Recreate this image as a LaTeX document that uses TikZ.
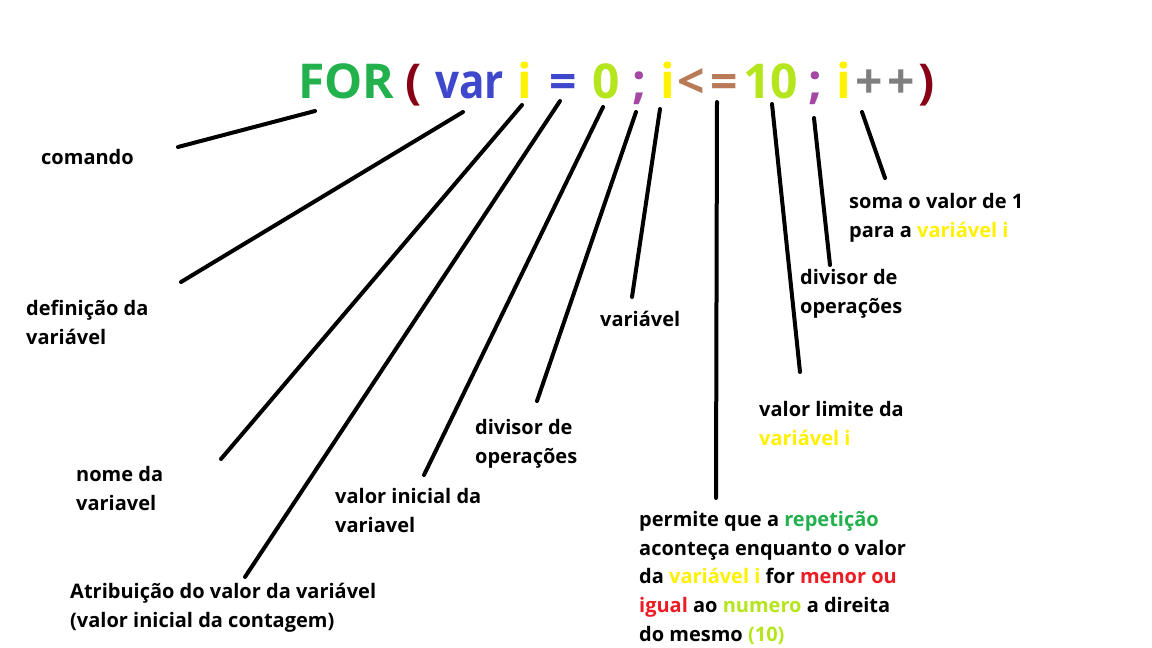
\documentclass[tikz,border=0pt]{standalone}
\usepackage{fontspec}
\setmainfont{Open Sans}
\definecolor{pgreen}{HTML}{22B14C}
\definecolor{pdred}{HTML}{880015}
\definecolor{pblue}{HTML}{3F48CC}
\definecolor{pyellow}{HTML}{FFF200}
\definecolor{plime}{HTML}{B5E61D}
\definecolor{ppurple}{HTML}{A349A4}
\definecolor{pbrown}{HTML}{B97A57}
\definecolor{pgray}{HTML}{7F7F7F}
\definecolor{pred}{HTML}{ED1C24}
\begin{document}
\begin{tikzpicture}[x=1pt,y=-1pt,
  tok/.style={anchor=base west,inner sep=0pt,font=\fontsize{48}{58}\selectfont\bfseries},
  lbl/.style={anchor=base west,inner sep=0pt,align=left,font=\fontsize{20}{29}\selectfont\bfseries},
  conn/.style={line width=4pt,line cap=round}]
\useasboundingbox[fill=white] (0,0) rectangle (1152,648);
% formula tokens
\node[tok,text=pgreen]  (tFOR) at (298,98) {FOR};
\node[tok,text=pdred]   (tLP)  at (405,98) {(};
\node[tok,text=pblue,xscale=0.88,transform shape] (tVAR) at (435,98) {var};
\node[tok,text=pyellow] (tI1)  at (517,98) {i};
\node[tok,text=pblue]   (tEQ)  at (549,98) {=};
\node[tok,text=plime]   (tZ)   at (592,98) {0};
\node[tok,text=ppurple] (tS1)  at (632,98) {;};
\node[tok,text=pyellow] (tI2)  at (660,98) {i};
\node[tok,text=pbrown]  (tLT)  at (677,98) {<};
\node[tok,text=pbrown]  (tEQ2) at (710,98) {=};
\node[tok,text=plime]   (tTEN) at (743,98) {10};
\node[tok,text=ppurple] (tS2)  at (808,98) {;};
\node[tok,text=pyellow] (tI3)  at (836,98) {i};
\node[tok,text=pgray]   (tP1)  at (855,98) {+};
\node[tok,text=pgray]   (tP2)  at (887,98) {+};
\node[tok,text=pdred]   (tRP)  at (918,98) {)};
% labels (anchor = baseline of the last line)
\node[lbl] (lCmd)  at (41,164)  {comando};
\node[lbl] (lDef)  at (26,344)  {definição da\\variável};
\node[lbl] (lNome) at (76,510)  {nome da\\variavel};
\node[lbl] (lAtr)  at (70,627)  {Atribuição do valor da variável\\(valor inicial da contagem)};
\node[lbl] (lIni)  at (335,532) {valor inicial da\\variavel};
\node[lbl] (lDiv1) at (475,463) {divisor de\\operações};
\node[lbl] (lVar)  at (600,326) {variável};
\node[lbl,font=\fontsize{20}{28.6}\selectfont\bfseries] (lPerm) at (639,641) {permite que a \textcolor{pgreen}{repetição}\\aconteça enquanto o valor\\da \textcolor{pyellow}{variável i} for \textcolor{pred}{menor ou}\\\textcolor{pred}{igual} ao \textcolor{plime}{numero} a direita\\do mesmo \textcolor{plime}{(10)}};
\node[lbl] (lLim)  at (759,445) {valor limite da\\\textcolor{pyellow}{variável i}};
\node[lbl] (lDiv2) at (800,313) {divisor de\\operações};
\node[lbl] (lSoma) at (849,237) {soma o valor de 1\\para a \textcolor{pyellow}{variável i}};
% connector end points
\coordinate (cCmdA) at (178,147);  \coordinate (cCmdB) at (315,111);
\coordinate (cDefA) at (181,282);  \coordinate (cDefB) at (463,112);
\coordinate (cNomA) at (221,459);  \coordinate (cNomB) at (522,105);
\coordinate (cAtrA) at (245,577);  \coordinate (cAtrB) at (560,101);
\coordinate (cIniA) at (424,475);  \coordinate (cIniB) at (603,107);
\coordinate (cDv1A) at (537,401);  \coordinate (cDv1B) at (636,112);
\coordinate (cVarA) at (632,297);  \coordinate (cVarB) at (660,109);
\coordinate (cPrmA) at (716,498);  \coordinate (cPrmB) at (717,102);
\coordinate (cLimA) at (800,372);  \coordinate (cLimB) at (772,104);
\coordinate (cDv2A) at (830,265);  \coordinate (cDv2B) at (814,118);
\coordinate (cSomA) at (885,178);  \coordinate (cSomB) at (862,112);
\draw[conn] (cCmdA) -- (cCmdB);
\draw[conn] (cDefA) -- (cDefB);
\draw[conn] (cNomA) -- (cNomB);
\draw[conn] (cAtrA) -- (cAtrB);
\draw[conn] (cIniA) -- (cIniB);
\draw[conn] (cDv1A) -- (cDv1B);
\draw[conn] (cVarA) -- (cVarB);
\draw[conn] (cPrmA) -- (cPrmB);
\draw[conn] (cLimA) -- (cLimB);
\draw[conn] (cDv2A) -- (cDv2B);
\draw[conn] (cSomA) -- (cSomB);
\end{tikzpicture}
\end{document}
